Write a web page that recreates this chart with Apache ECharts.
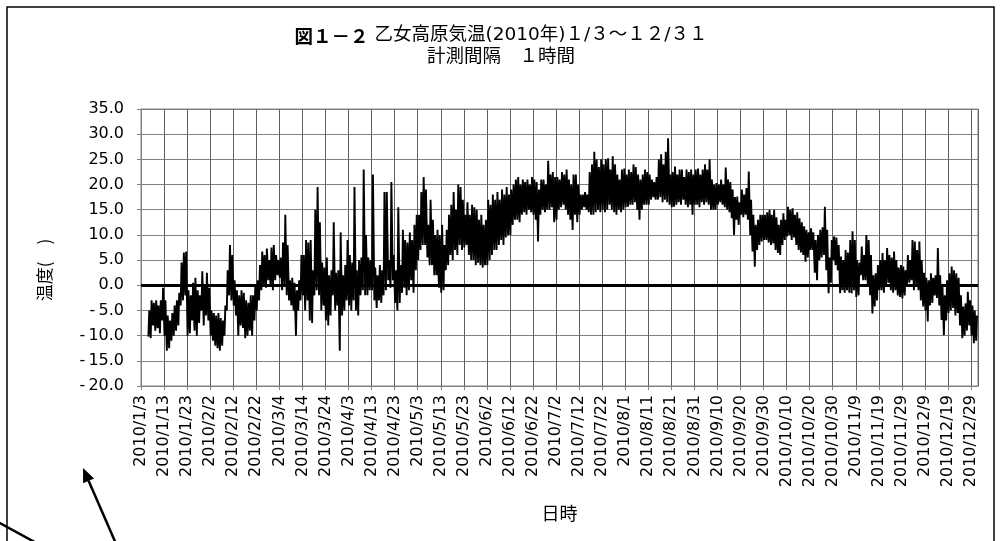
<!DOCTYPE html>
<html>
<head>
<meta charset="utf-8">
<script src="https://cdn.jsdelivr.net/npm/echarts@6/dist/echarts.min.js"></script>
<style>
  html, body { margin: 0; padding: 0; background: #fff; }
  #chart { width: 1002px; height: 541px; }
</style>
</head>
<body>
<div id="chart"></div>
<script>
// Tick labels every 10 days, starting 2010/1/3 (day 0)
const tickLabels = [
  '2010/1/3', '2010/1/13', '2010/1/23', '2010/2/2', '2010/2/12', '2010/2/22',
  '2010/3/4', '2010/3/14', '2010/3/24', '2010/4/3', '2010/4/13', '2010/4/23',
  '2010/5/3', '2010/5/13', '2010/5/23', '2010/6/2', '2010/6/12', '2010/6/22',
  '2010/7/2', '2010/7/12', '2010/7/22', '2010/8/1', '2010/8/11', '2010/8/21',
  '2010/8/31', '2010/9/10', '2010/9/20', '2010/9/30', '2010/10/10', '2010/10/20',
  '2010/10/30', '2010/11/9', '2010/11/19', '2010/11/29', '2010/12/9', '2010/12/19',
  '2010/12/29'
];

// Daily minimum temperature (°C), one value per day from 1/3 to 12/31
const dailyLow = [
  null, null, null, -10.2, -10.5, -8, -9, -8.5, -9.5, -7,
  -10, -13, -12.5, -11, -10, -9, -8, -4, -3, -2,
  -10, -9.5, -7, -9, -10, -7.5, -5, -8, -6, -7,
  -10, -11, -12, -12.5, -13, -12, -10, -5, -2, -3,
  -4, -6, -10, -8, -8.5, -10.5, -10, -9, -10, -7,
  -5, -3, -1, 0, -0.5, 1, 0, -1, 1, 2,
  1.5, -1, 0, -2, -3, -4, -5, -10, -5, -3,
  -2, -5, -3, -7, -7.5, -2, -1, -2, -5, -4,
  -7, -8, -6, -2, -5, -4, -13, -6, -5, -3,
  -4, -5, -3, -5, -6, -2, -1, -2, -2, -1,
  -1, -3, -4.5, -3, -3.5, -2, -1, 1, -0.5, 1,
  -3.5, -5, -3.5, -1.5, -0.5, -2, -1, 1, -1.5, 3,
  5, 7, 8, 8, 5.5, 4, 4, 2, 2, -0.5,
  -1.5, -1, 3, 4, 6, 5, 7, 6, 8, 7,
  7.5, 8, 6, 5, 5, 4, 4.5, 4, 3.5, 4,
  4, 5, 6, 7, 7, 8, 9, 8, 9.5, 10,
  10, 12, 13, 13, 12.5, 14, 14.5, 14, 15, 14.5,
  14, 13, 8.7, 14, 15, 14.5, 15, 15, 15.5, 12.5,
  13, 15, 15.5, 16, 15, 14, 13, 11, 14, 12.5,
  14, 15, 15.5, 15, 14.5, 14, 14, 14.5, 15, 14.5,
  15, 14.5, 15, 16, 15, 14.5, 14, 15, 14.5, 15,
  15.5, 15.6, 16, 16, 16.5, 15, 13, 15, 16, 16,
  16, 17, 17.5, 17, 17, 17.5, 16.5, 17, 16.5, 16,
  15.5, 15.6, 16, 16.5, 16, 17, 16, 15.5, 16, 14,
  16, 16, 15.5, 16.5, 16, 16.5, 16, 15, 15, 15,
  16, 16.5, 16, 15.5, 15, 14.5, 13.3, 10, 13, 12,
  14, 13.5, 14, 13, 10, 6.7, 3.7, 7, 8, 8.7,
  9, 9, 8.5, 8, 8.3, 7, 6.4, 6, 8, 9,
  9.7, 10, 9, 9.5, 8, 7, 6.5, 6, 4.7, 5.5,
  7, 7, 2.5, 1, 5, 5.5, 6, 3, -1.6, 0.5,
  5, 4, 3, -1.6, -1, -1.5, -1, -1.5, -1.6, -1,
  -2.3, -2, 2, 1, 1, 0, -2, -5.6, -4.2, -3,
  -1, -1, -1.5, 0, 0.5, -1, -1.5, -1, -2, -2.3,
  -2.6, -2, 0, 0.5, 1, -1, 0, -1, -3, -4.2,
  -5, -7.2, -4, -3.5, -2, -2.5, -4, -6.9, -9.9, -7,
  -5.5, -5, -4.5, -6, -5.5, -8, -10.5, -10, -9, -8, -10, -11.5, -11
];

// Daily maximum temperature (°C), same days
const dailyHigh = [
  null, null, null, -5, -3, -3.5, -3, -4, -3, -0.5,
  -3, -6, -7, -5.5, -4, -3, -1.5, 4.5, 6.5, 6.7,
  -1, -2, 0.5, 1.5, -1, -2, 2.8, 0, 2.5, -0.5,
  -5, -5.5, -6, -5.5, -6.5, -7, -4, 3, 8, 6,
  1, -1, -2, -1, -1.5, -3, -3.5, -2, -2, 0,
  1, 4, 6.7, 6, 7.3, 5, 7.5, 8, 6, 5,
  5.5, 8.5, 14, 8, 1, 1.5, 0.5, -1, 1, 6,
  6, 9, 8.5, 9, 3, 15, 19.5, 12.5, 4.5, 3.5,
  5.5, 2, 3, 12.5, 2.5, 3, 10.5, 2, 4, 9,
  6, 4.5, 19.5, 3, 5, 5.5, 23, 10, 5.5, 5,
  22, 3.5, 2, 4, 3, 18.5, 18.5, 5, 20.5, 6,
  3, 15.5, 4, 11, 9, 8.5, 10.5, 9, 12, 14,
  14, 18.5, 21.5, 19, 12, 17, 13, 10, 11, 10,
  12, 8, 11, 14, 16, 18.5, 15, 20, 19.5, 17,
  14, 16.5, 14, 16, 15.5, 15, 13, 14, 12, 13,
  17, 16, 18, 17, 18.5, 17, 19, 18, 19.5, 18,
  19, 20, 21, 21.5, 20, 21, 20.5, 21, 20, 21.5,
  21, 20.5, 19, 21, 21, 20, 24.7, 22, 22.5, 21.5,
  21.5, 21, 22.5, 22, 23, 21, 20, 22, 22, 20,
  18, 18, 18.5, 18, 22.5, 24, 26.5, 25, 23.5, 25,
  24, 25, 25.2, 23, 25.6, 24, 22, 21, 23, 23.2,
  22, 23, 22.5, 24, 23.5, 22, 21, 22, 23, 22.5,
  22, 21, 20.5, 21.5, 25, 26, 24, 26.5, 29.2, 22,
  22.5, 23.6, 22, 23, 23, 21.5, 23, 22.5, 23, 22,
  23, 23.2, 22, 23, 24, 23, 25, 21, 20, 20.3,
  20, 21, 20, 23.4, 21, 20.5, 19, 17.5, 17.6, 16.5,
  19, 18, 19.3, 22.6, 17, 14, 12, 13, 14, 14,
  14, 14.5, 15, 14, 15, 13.5, 12, 13, 14.3, 13,
  15.6, 15, 15.3, 14, 14.5, 13.3, 12.5, 11.7, 11, 10.5,
  11.3, 10.5, 9, 10, 11, 11.5, 15.6, 11, 5.5, 9,
  9.7, 9.5, 8, 5.7, 5, 7, 6.5, 9, 10.7, 9,
  5, 4.5, 7.7, 6, 10, 9, 6, 2, 2.4, 4,
  5, 6.4, 5, 7.4, 6, 5.5, 6.7, 5, 3.5, 4,
  3.7, 3, 6, 5, 9, 8.7, 7, 8.7, 5, 2.5,
  1.5, 1, 2.4, 1.5, 2, 7.4, 2, 0, -2, 1,
  2.4, 3.7, 3, 2.4, 1.5, -2, -4.2, -3.6, -1.3, -3, -4, -5, -6
];

// Typical hours of the daily minimum and maximum
const LOW_HOUR = 5;
const HIGH_HOUR = 14;

const tempSeries = [];
dailyLow.forEach((lo, d) => {
  const hi = dailyHigh[d];
  if (lo === null || hi === null) return;
  tempSeries.push([d + LOW_HOUR / 24, lo]);
  tempSeries.push([d + HIGH_HOUR / 24, hi]);
});

const latin = "'DejaVu Sans', 'Noto Sans CJK JP', sans-serif";
const cjk = "'Noto Sans CJK JP', 'DejaVu Sans', sans-serif";

const chart = echarts.init(document.getElementById('chart'), null, { renderer: 'canvas' });

chart.setOption({
  backgroundColor: '#ffffff',
  animation: false,
  title: {
    left: 'center',
    top: 26,
    itemGap: 0,
    padding: 0,
    text: '{b|図１－２} 乙女高原気温(2010年)１/３～１２/３１',
    textStyle: {
      fontFamily: latin,
      fontSize: 18.5,
      lineHeight: 19,
      fontWeight: 'normal',
      color: '#000',
      rich: {
        b: { fontFamily: cjk, fontSize: 18.5, lineHeight: 19, fontWeight: 'bold', color: '#000' }
      }
    },
    subtext: '計測間隔　１時間',
    subtextStyle: { fontFamily: cjk, fontSize: 18.5, lineHeight: 19, color: '#000' }
  },
  grid: {
    left: 141, right: 24, top: 109, bottom: 155,
    show: true,
    borderColor: '#808080',
    borderWidth: 1
  },
  xAxis: {
    type: 'value',
    min: 0,
    max: 363,
    interval: 10,
    name: '日時',
    nameLocation: 'middle',
    nameGap: 118,
    nameTextStyle: { fontFamily: cjk, fontSize: 18, color: '#000' },
    axisLine: { onZero: false, lineStyle: { color: '#808080', width: 1 } },
    axisTick: { show: true, length: 4, lineStyle: { color: '#808080' } },
    splitLine: { show: true, lineStyle: { color: '#606060', width: 1 } },
    axisLabel: {
      rotate: 90,
      margin: 9,
      fontFamily: latin,
      fontSize: 16,
      color: '#000',
      showMaxLabel: false,
      formatter: function (v) { return tickLabels[Math.round(v / 10)] || ''; }
    }
  },
  yAxis: {
    type: 'value',
    min: -20,
    max: 35,
    interval: 5,
    axisLine: { show: true, lineStyle: { color: '#808080', width: 1 } },
    axisTick: { show: true, length: 4, lineStyle: { color: '#808080' } },
    splitLine: { show: true, lineStyle: { color: '#808080', width: 1 } },
    axisLabel: {
      margin: 17,
      fontFamily: latin,
      fontSize: 16,
      color: '#000',
      formatter: function (v) {
        const s = Math.abs(v).toFixed(1);
        return v < 0 ? '-\u2009' + s : s;
      }
    }
  },
  series: [{
    type: 'line',
    data: tempSeries,
    showSymbol: false,
    symbol: 'none',
    lineStyle: { color: '#000', width: 1.9 },
    markLine: {
      silent: true,
      symbol: 'none',
      label: { show: false },
      lineStyle: { color: '#000', width: 3, type: 'solid' },
      data: [{ yAxis: 0 }]
    }
  }],
  graphic: [
    {
      type: 'text',
      x: 45,
      y: 270,
      rotation: Math.PI / 2,
      silent: true,
      style: {
        text: '温度(　)',
        fontFamily: cjk,
        fontSize: 17,
        fill: '#000',
        align: 'center',
        verticalAlign: 'middle'
      }
    },
    {
      type: 'rect',
      shape: { x: 7, y: 7, width: 987, height: 545 },
      style: { fill: 'none', stroke: '#000', lineWidth: 1.5 },
      silent: true
    },
    {
      type: 'line',
      shape: { x1: 117, y1: 546, x2: 88.6, y2: 480.8 },
      style: { stroke: '#000', lineWidth: 2.5 },
      silent: true
    },
    {
      type: 'polygon',
      shape: { points: [[83, 468], [94.1, 478.4], [83.1, 483.2]] },
      style: { fill: '#000' },
      silent: true
    },
    {
      type: 'line',
      shape: { x1: -2, y1: 522, x2: 40, y2: 545 },
      style: { stroke: '#000', lineWidth: 2.5 },
      silent: true
    }
  ]
});
</script>
</body>
</html>
